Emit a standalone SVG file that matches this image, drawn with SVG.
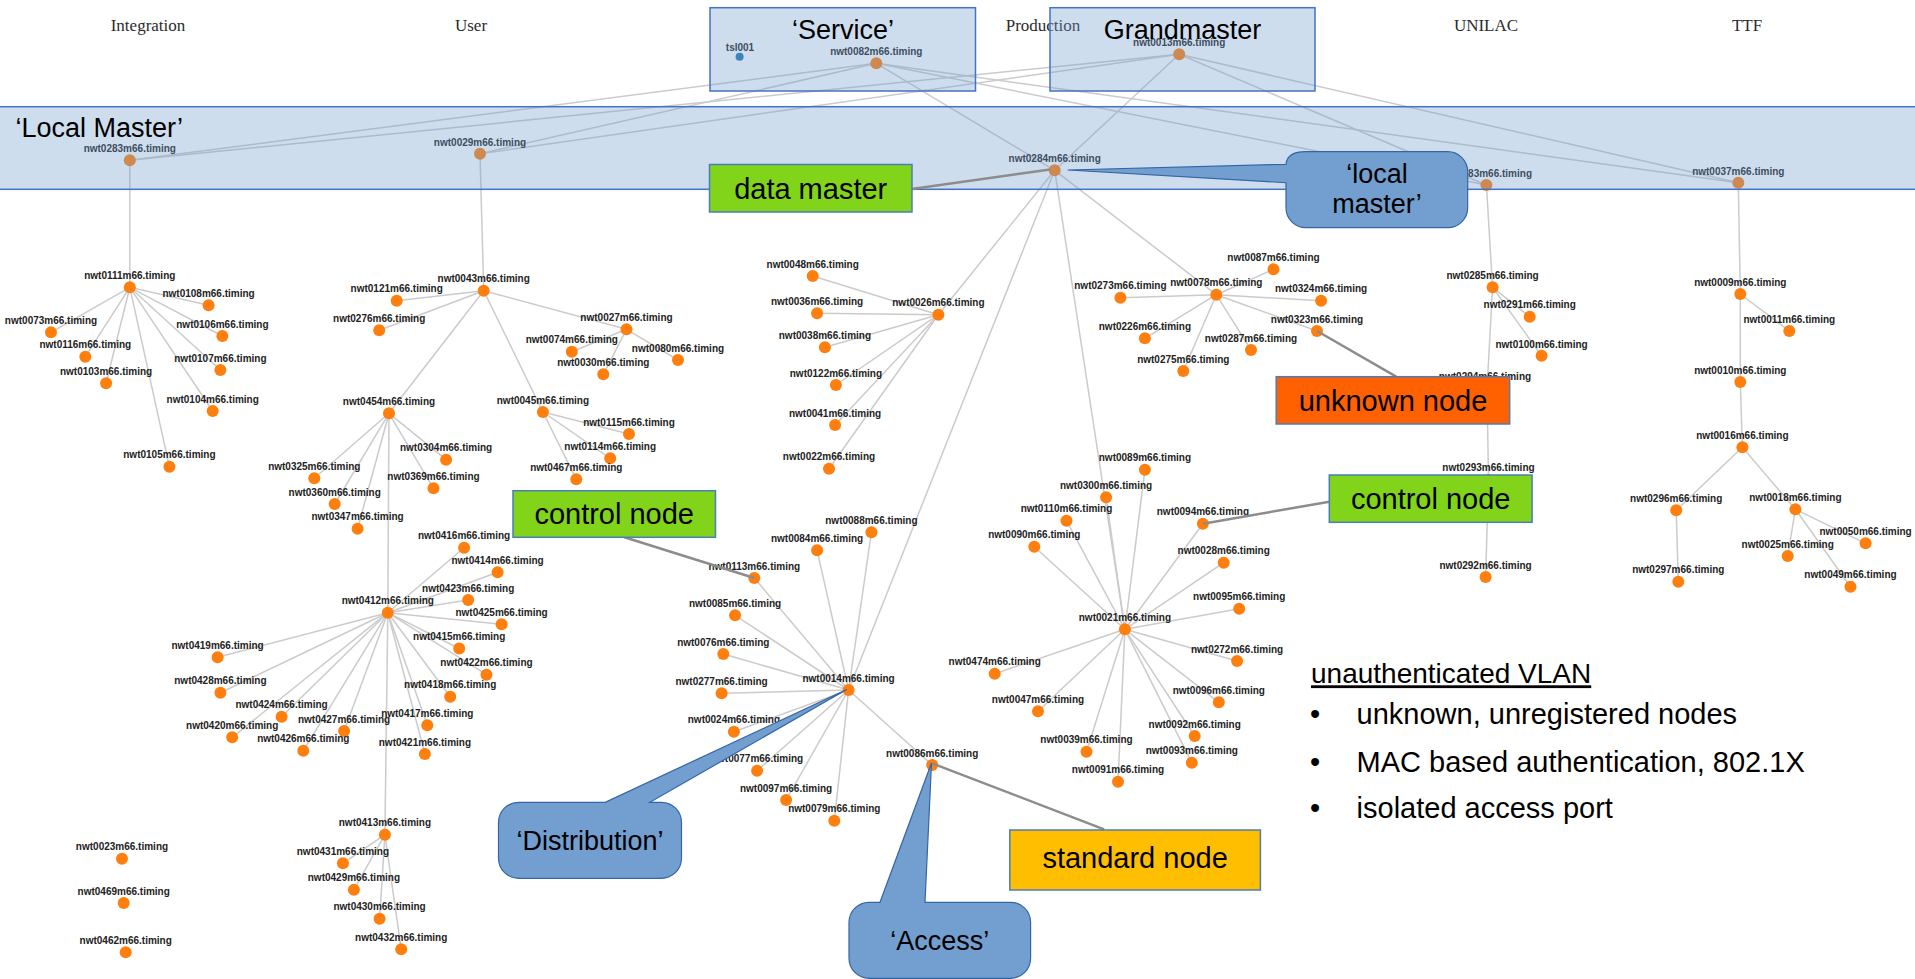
<svg xmlns="http://www.w3.org/2000/svg" width="1915" height="979" viewBox="0 0 1915 979">
  <style>
    .edges line { stroke:#cbcbcb; stroke-width:1.5; }
    .node circle { fill:#ff7f0e; }
    .node text { font-family:"Liberation Sans", Arial, sans-serif; font-weight:bold; font-size:10px; fill:#222; text-anchor:middle; }
    .sector { font-family:"Liberation Serif", "Times New Roman", serif; font-size:17px; fill:#2b2b2b; text-anchor:middle; }
    .zone { fill:#729fcf; fill-opacity:0.35; stroke:#4472c4; stroke-width:1.5; }
    .title { font-family:"Liberation Sans", Arial, sans-serif; font-size:27px; fill:#000; }
    .tag rect { stroke:#4a7ebb; stroke-width:1.5; }
    .tag text { font-family:"Liberation Sans", Arial, sans-serif; font-size:29px; fill:#000; text-anchor:middle; }
    .callout path { fill:#729fcf; stroke:#3465a4; stroke-width:1.2; }
    .callout text { font-family:"Liberation Sans", Arial, sans-serif; font-size:27px; fill:#000; text-anchor:middle; }
    .links line { stroke:#8c8c8c; stroke-width:2.5; }
    .legend { font-family:"Liberation Sans", Arial, sans-serif; fill:#000; }
  </style>

  <rect width="1915" height="979" fill="#ffffff"/>

  <!-- facility names -->
  <g id="sectors">
    <text class="sector" x="148" y="30.5">Integration</text>
    <text class="sector" x="471" y="30.5">User</text>
    <text class="sector" x="1043" y="30.5">Production</text>
    <text class="sector" x="1486" y="30.5">UNILAC</text>
    <text class="sector" x="1747" y="30.5">TTF</text>
  </g>

  <!-- timing network links -->
  <g id="edges" class="edges">
    <line x1="876.3" y1="63.3" x2="129.8" y2="160.3"/>
    <line x1="876.3" y1="63.3" x2="480" y2="153.7"/>
    <line x1="876.3" y1="63.3" x2="1054.7" y2="170.3"/>
    <line x1="876.3" y1="63.3" x2="1486.4" y2="185"/>
    <line x1="876.3" y1="63.3" x2="1738.3" y2="182.7"/>
    <line x1="1179.2" y1="54.3" x2="129.8" y2="160.3"/>
    <line x1="1179.2" y1="54.3" x2="480" y2="153.7"/>
    <line x1="1179.2" y1="54.3" x2="1054.7" y2="170.3"/>
    <line x1="1179.2" y1="54.3" x2="1486.4" y2="185"/>
    <line x1="1179.2" y1="54.3" x2="1738.3" y2="182.7"/>

    <line x1="129.8" y1="160.3" x2="129.8" y2="287.3"/>
    <line x1="129.8" y1="287.3" x2="208.6" y2="305.3"/>
    <line x1="129.8" y1="287.3" x2="51" y2="332.3"/>
    <line x1="129.8" y1="287.3" x2="222.4" y2="336"/>
    <line x1="129.8" y1="287.3" x2="85.3" y2="356.7"/>
    <line x1="129.8" y1="287.3" x2="220.4" y2="370"/>
    <line x1="129.8" y1="287.3" x2="106.1" y2="383.3"/>
    <line x1="129.8" y1="287.3" x2="212.7" y2="411"/>
    <line x1="129.8" y1="287.3" x2="169.4" y2="466.7"/>

    <line x1="480" y1="153.7" x2="483.7" y2="290.7"/>
    <line x1="483.7" y1="290.7" x2="396.7" y2="300.7"/>
    <line x1="483.7" y1="290.7" x2="379.2" y2="330.3"/>
    <line x1="483.7" y1="290.7" x2="626.5" y2="329.3"/>
    <line x1="483.7" y1="290.7" x2="389" y2="413.3"/>
    <line x1="483.7" y1="290.7" x2="542.9" y2="412"/>
    <line x1="626.5" y1="329.3" x2="571.8" y2="351.7"/>
    <line x1="626.5" y1="329.3" x2="603.3" y2="374.3"/>
    <line x1="626.5" y1="329.3" x2="678" y2="360"/>
    <line x1="542.9" y1="412" x2="629" y2="434"/>
    <line x1="542.9" y1="412" x2="610.2" y2="458.3"/>
    <line x1="542.9" y1="412" x2="576.3" y2="479.3"/>
    <line x1="389" y1="413.3" x2="446.1" y2="459.7"/>
    <line x1="389" y1="413.3" x2="314.3" y2="478.3"/>
    <line x1="389" y1="413.3" x2="433.5" y2="488.3"/>
    <line x1="389" y1="413.3" x2="334.7" y2="504"/>
    <line x1="389" y1="413.3" x2="357.6" y2="528.7"/>
    <line x1="389" y1="413.3" x2="387.8" y2="612.7"/>
    <line x1="387.8" y1="612.7" x2="464.1" y2="547.7"/>
    <line x1="387.8" y1="612.7" x2="497.6" y2="572.3"/>
    <line x1="387.8" y1="612.7" x2="468.2" y2="600"/>
    <line x1="387.8" y1="612.7" x2="501.6" y2="624.3"/>
    <line x1="387.8" y1="612.7" x2="459.2" y2="648.5"/>
    <line x1="387.8" y1="612.7" x2="217.6" y2="657.3"/>
    <line x1="387.8" y1="612.7" x2="486.5" y2="674.7"/>
    <line x1="387.8" y1="612.7" x2="220.4" y2="692.7"/>
    <line x1="387.8" y1="612.7" x2="450.2" y2="696.7"/>
    <line x1="387.8" y1="612.7" x2="281.6" y2="716.7"/>
    <line x1="387.8" y1="612.7" x2="427.3" y2="725.3"/>
    <line x1="387.8" y1="612.7" x2="344.1" y2="731"/>
    <line x1="387.8" y1="612.7" x2="232.2" y2="737.3"/>
    <line x1="387.8" y1="612.7" x2="303.3" y2="750.7"/>
    <line x1="387.8" y1="612.7" x2="424.9" y2="754"/>
    <line x1="387.8" y1="612.7" x2="384.9" y2="834.7"/>
    <line x1="384.9" y1="834.7" x2="342.9" y2="863.3"/>
    <line x1="384.9" y1="834.7" x2="353.9" y2="889.7"/>
    <line x1="384.9" y1="834.7" x2="379.6" y2="918.7"/>
    <line x1="384.9" y1="834.7" x2="401.2" y2="949.3"/>

    <line x1="1054.7" y1="170.3" x2="938.4" y2="314.7"/>
    <line x1="1054.7" y1="170.3" x2="848.6" y2="690"/>
    <line x1="1054.7" y1="170.3" x2="1124.9" y2="629.3"/>
    <line x1="1054.7" y1="170.3" x2="1216.3" y2="294.7"/>
    <line x1="938.4" y1="314.7" x2="812.7" y2="276"/>
    <line x1="938.4" y1="314.7" x2="817.1" y2="313.3"/>
    <line x1="938.4" y1="314.7" x2="824.9" y2="347.3"/>
    <line x1="938.4" y1="314.7" x2="835.9" y2="385"/>
    <line x1="938.4" y1="314.7" x2="835.1" y2="425"/>
    <line x1="938.4" y1="314.7" x2="829" y2="468.7"/>
    <line x1="848.6" y1="690" x2="754.3" y2="578"/>
    <line x1="848.6" y1="690" x2="735.1" y2="615.3"/>
    <line x1="848.6" y1="690" x2="723.3" y2="654"/>
    <line x1="848.6" y1="690" x2="721.6" y2="693.3"/>
    <line x1="848.6" y1="690" x2="733.9" y2="731.7"/>
    <line x1="848.6" y1="690" x2="757.1" y2="770.7"/>
    <line x1="848.6" y1="690" x2="786.1" y2="800"/>
    <line x1="848.6" y1="690" x2="834.3" y2="820.7"/>
    <line x1="848.6" y1="690" x2="817.1" y2="550.3"/>
    <line x1="848.6" y1="690" x2="871.4" y2="532.3"/>
    <line x1="848.6" y1="690" x2="932.2" y2="765"/>
    <line x1="1216.3" y1="294.7" x2="1120.4" y2="297.7"/>
    <line x1="1216.3" y1="294.7" x2="1273.5" y2="269.3"/>
    <line x1="1216.3" y1="294.7" x2="1321.1" y2="300.7"/>
    <line x1="1216.3" y1="294.7" x2="1144.9" y2="338.3"/>
    <line x1="1216.3" y1="294.7" x2="1251" y2="350"/>
    <line x1="1216.3" y1="294.7" x2="1183.3" y2="371"/>
    <line x1="1216.3" y1="294.7" x2="1317" y2="331"/>
    <line x1="1124.9" y1="629.3" x2="1144.9" y2="469.7"/>
    <line x1="1124.9" y1="629.3" x2="1106.1" y2="497.3"/>
    <line x1="1124.9" y1="629.3" x2="1066.5" y2="520.7"/>
    <line x1="1124.9" y1="629.3" x2="1034.3" y2="546.7"/>
    <line x1="1124.9" y1="629.3" x2="1202.9" y2="523.7"/>
    <line x1="1124.9" y1="629.3" x2="1223.7" y2="562.7"/>
    <line x1="1124.9" y1="629.3" x2="1239.2" y2="608.7"/>
    <line x1="1124.9" y1="629.3" x2="1237.1" y2="661"/>
    <line x1="1124.9" y1="629.3" x2="994.7" y2="673.7"/>
    <line x1="1124.9" y1="629.3" x2="1038" y2="711.3"/>
    <line x1="1124.9" y1="629.3" x2="1086.5" y2="751.7"/>
    <line x1="1124.9" y1="629.3" x2="1118" y2="781.7"/>
    <line x1="1124.9" y1="629.3" x2="1218.8" y2="702.3"/>
    <line x1="1124.9" y1="629.3" x2="1194.7" y2="736"/>
    <line x1="1124.9" y1="629.3" x2="1191.8" y2="762.7"/>

    <line x1="1486.4" y1="185" x2="1492.6" y2="287.3"/>
    <line x1="1492.6" y1="287.3" x2="1529.7" y2="316.7"/>
    <line x1="1492.6" y1="287.3" x2="1541.6" y2="355.8"/>
    <line x1="1492.6" y1="287.3" x2="1487" y2="389"/>
    <line x1="1487" y1="389" x2="1488.5" y2="480"/>
    <line x1="1488.5" y1="480" x2="1485.6" y2="577"/>

    <line x1="1738.3" y1="182.7" x2="1740.3" y2="294"/>
    <line x1="1740.3" y1="294" x2="1789.3" y2="331"/>
    <line x1="1740.3" y1="294" x2="1740.3" y2="382"/>
    <line x1="1740.3" y1="382" x2="1742.4" y2="447.3"/>
    <line x1="1742.4" y1="447.3" x2="1676.2" y2="510.3"/>
    <line x1="1742.4" y1="447.3" x2="1795.4" y2="509.3"/>
    <line x1="1676.2" y1="510.3" x2="1678.3" y2="581.7"/>
    <line x1="1795.4" y1="509.3" x2="1865.6" y2="543.3"/>
    <line x1="1795.4" y1="509.3" x2="1787.7" y2="556"/>
    <line x1="1795.4" y1="509.3" x2="1850.5" y2="586.7"/>
  </g>

  <!-- timing nodes -->
  <g id="nodes">
    <g id="tsl001" class="node"><circle cx="739.6" cy="56.7" r="4" style="fill:#1f77b4"/><text x="740" y="50.5">tsl001</text></g>
    <g id="n0082" class="node"><circle cx="876.3" cy="63.3" r="6"/><text x="876.3" y="54.8">nwt0082m66.timing</text></g>
    <g id="n0013" class="node"><circle cx="1179.2" cy="54.3" r="6"/><text x="1179.2" y="46.3">nwt0013m66.timing</text></g>
    <g id="n0283" class="node"><circle cx="129.8" cy="160.3" r="6"/><text x="129.8" y="151.8">nwt0283m66.timing</text></g>
    <g id="n0029" class="node"><circle cx="480" cy="153.7" r="6"/><text x="480" y="145.5">nwt0029m66.timing</text></g>
    <g id="n0284" class="node"><circle cx="1054.7" cy="170.3" r="6"/><text x="1054.7" y="162">nwt0284m66.timing</text></g>
    <g id="n0083" class="node"><circle cx="1486.4" cy="185" r="6"/><text x="1532" y="177" style="text-anchor:end">83m66.timing</text></g>
    <g id="n0037" class="node"><circle cx="1738.3" cy="182.7" r="6"/><text x="1738.3" y="174.5">nwt0037m66.timing</text></g>

    <g id="n0111" class="node"><circle cx="129.8" cy="287.3" r="6"/><text x="129.8" y="279">nwt0111m66.timing</text></g>
    <g id="n0108" class="node"><circle cx="208.6" cy="305.3" r="6"/><text x="208.6" y="297">nwt0108m66.timing</text></g>
    <g id="n0073" class="node"><circle cx="51" cy="332.3" r="6"/><text x="51" y="324">nwt0073m66.timing</text></g>
    <g id="n0106" class="node"><circle cx="222.4" cy="336" r="6"/><text x="222.4" y="327.7">nwt0106m66.timing</text></g>
    <g id="n0116" class="node"><circle cx="85.3" cy="356.7" r="6"/><text x="85.3" y="348.4">nwt0116m66.timing</text></g>
    <g id="n0107" class="node"><circle cx="220.4" cy="370" r="6"/><text x="220.4" y="361.7">nwt0107m66.timing</text></g>
    <g id="n0103" class="node"><circle cx="106.1" cy="383.3" r="6"/><text x="106.1" y="375">nwt0103m66.timing</text></g>
    <g id="n0104" class="node"><circle cx="212.7" cy="411" r="6"/><text x="212.7" y="402.7">nwt0104m66.timing</text></g>
    <g id="n0105" class="node"><circle cx="169.4" cy="466.7" r="6"/><text x="169.4" y="458.4">nwt0105m66.timing</text></g>

    <g id="n0043" class="node"><circle cx="483.7" cy="290.7" r="6"/><text x="483.7" y="282.4">nwt0043m66.timing</text></g>
    <g id="n0121" class="node"><circle cx="396.7" cy="300.7" r="6"/><text x="396.7" y="292.4">nwt0121m66.timing</text></g>
    <g id="n0276" class="node"><circle cx="379.2" cy="330.3" r="6"/><text x="379.2" y="322">nwt0276m66.timing</text></g>
    <g id="n0027" class="node"><circle cx="626.5" cy="329.3" r="6"/><text x="626.5" y="321">nwt0027m66.timing</text></g>
    <g id="n0074" class="node"><circle cx="571.8" cy="351.7" r="6"/><text x="571.8" y="343.4">nwt0074m66.timing</text></g>
    <g id="n0030" class="node"><circle cx="603.3" cy="374.3" r="6"/><text x="603.3" y="366">nwt0030m66.timing</text></g>
    <g id="n0080" class="node"><circle cx="678" cy="360" r="6"/><text x="678" y="351.7">nwt0080m66.timing</text></g>
    <g id="n0454" class="node"><circle cx="389" cy="413.3" r="6"/><text x="389" y="405">nwt0454m66.timing</text></g>
    <g id="n0045" class="node"><circle cx="542.9" cy="412" r="6"/><text x="542.9" y="403.7">nwt0045m66.timing</text></g>
    <g id="n0115" class="node"><circle cx="629" cy="434" r="6"/><text x="629" y="425.7">nwt0115m66.timing</text></g>
    <g id="n0114" class="node"><circle cx="610.2" cy="458.3" r="6"/><text x="610.2" y="450">nwt0114m66.timing</text></g>
    <g id="n0467" class="node"><circle cx="576.3" cy="479.3" r="6"/><text x="576.3" y="471">nwt0467m66.timing</text></g>
    <g id="n0304" class="node"><circle cx="446.1" cy="459.7" r="6"/><text x="446.1" y="451.4">nwt0304m66.timing</text></g>
    <g id="n0325" class="node"><circle cx="314.3" cy="478.3" r="6"/><text x="314.3" y="470">nwt0325m66.timing</text></g>
    <g id="n0369" class="node"><circle cx="433.5" cy="488.3" r="6"/><text x="433.5" y="480">nwt0369m66.timing</text></g>
    <g id="n0360" class="node"><circle cx="334.7" cy="504" r="6"/><text x="334.7" y="495.7">nwt0360m66.timing</text></g>
    <g id="n0347" class="node"><circle cx="357.6" cy="528.7" r="6"/><text x="357.6" y="520.4">nwt0347m66.timing</text></g>
    <g id="n0416" class="node"><circle cx="464.1" cy="547.7" r="6"/><text x="464.1" y="539.4">nwt0416m66.timing</text></g>
    <g id="n0414" class="node"><circle cx="497.6" cy="572.3" r="6"/><text x="497.6" y="564">nwt0414m66.timing</text></g>
    <g id="n0423" class="node"><circle cx="468.2" cy="600" r="6"/><text x="468.2" y="591.7">nwt0423m66.timing</text></g>
    <g id="n0412" class="node"><circle cx="387.8" cy="612.7" r="6"/><text x="387.8" y="604.4">nwt0412m66.timing</text></g>
    <g id="n0425" class="node"><circle cx="501.6" cy="624.3" r="6"/><text x="501.6" y="616">nwt0425m66.timing</text></g>
    <g id="n0415" class="node"><circle cx="459.2" cy="648.5" r="6"/><text x="459.2" y="640.2">nwt0415m66.timing</text></g>
    <g id="n0419" class="node"><circle cx="217.6" cy="657.3" r="6"/><text x="217.6" y="649">nwt0419m66.timing</text></g>
    <g id="n0422" class="node"><circle cx="486.5" cy="674.7" r="6"/><text x="486.5" y="666.4">nwt0422m66.timing</text></g>
    <g id="n0428" class="node"><circle cx="220.4" cy="692.7" r="6"/><text x="220.4" y="684.4">nwt0428m66.timing</text></g>
    <g id="n0418" class="node"><circle cx="450.2" cy="696.7" r="6"/><text x="450.2" y="688.4">nwt0418m66.timing</text></g>
    <g id="n0424" class="node"><circle cx="281.6" cy="716.7" r="6"/><text x="281.6" y="708.4">nwt0424m66.timing</text></g>
    <g id="n0417" class="node"><circle cx="427.3" cy="725.3" r="6"/><text x="427.3" y="717">nwt0417m66.timing</text></g>
    <g id="n0427" class="node"><circle cx="344.1" cy="731" r="6"/><text x="344.1" y="722.7">nwt0427m66.timing</text></g>
    <g id="n0420" class="node"><circle cx="232.2" cy="737.3" r="6"/><text x="232.2" y="729">nwt0420m66.timing</text></g>
    <g id="n0426" class="node"><circle cx="303.3" cy="750.7" r="6"/><text x="303.3" y="742.4">nwt0426m66.timing</text></g>
    <g id="n0421" class="node"><circle cx="424.9" cy="754" r="6"/><text x="424.9" y="745.7">nwt0421m66.timing</text></g>
    <g id="n0413" class="node"><circle cx="384.9" cy="834.7" r="6"/><text x="384.9" y="826.4">nwt0413m66.timing</text></g>
    <g id="n0431" class="node"><circle cx="342.9" cy="863.3" r="6"/><text x="342.9" y="855">nwt0431m66.timing</text></g>
    <g id="n0429" class="node"><circle cx="353.9" cy="889.7" r="6"/><text x="353.9" y="881.4">nwt0429m66.timing</text></g>
    <g id="n0430" class="node"><circle cx="379.6" cy="918.7" r="6"/><text x="379.6" y="910.4">nwt0430m66.timing</text></g>
    <g id="n0432" class="node"><circle cx="401.2" cy="949.3" r="6"/><text x="401.2" y="941">nwt0432m66.timing</text></g>
    <g id="n0023" class="node"><circle cx="122" cy="858.7" r="6"/><text x="122" y="850.4">nwt0023m66.timing</text></g>
    <g id="n0469" class="node"><circle cx="123.7" cy="903" r="6"/><text x="123.7" y="894.7">nwt0469m66.timing</text></g>
    <g id="n0462" class="node"><circle cx="125.7" cy="952.3" r="6"/><text x="125.7" y="944">nwt0462m66.timing</text></g>

    <g id="n0048" class="node"><circle cx="812.7" cy="276" r="6"/><text x="812.7" y="267.7">nwt0048m66.timing</text></g>
    <g id="n0036" class="node"><circle cx="817.1" cy="313.3" r="6"/><text x="817.1" y="305">nwt0036m66.timing</text></g>
    <g id="n0026" class="node"><circle cx="938.4" cy="314.7" r="6"/><text x="938.4" y="306.4">nwt0026m66.timing</text></g>
    <g id="n0038" class="node"><circle cx="824.9" cy="347.3" r="6"/><text x="824.9" y="339">nwt0038m66.timing</text></g>
    <g id="n0122" class="node"><circle cx="835.9" cy="385" r="6"/><text x="835.9" y="376.7">nwt0122m66.timing</text></g>
    <g id="n0041" class="node"><circle cx="835.1" cy="425" r="6"/><text x="835.1" y="416.7">nwt0041m66.timing</text></g>
    <g id="n0022" class="node"><circle cx="829" cy="468.7" r="6"/><text x="829" y="460.4">nwt0022m66.timing</text></g>
    <g id="n0088" class="node"><circle cx="871.4" cy="532.3" r="6"/><text x="871.4" y="524">nwt0088m66.timing</text></g>
    <g id="n0084" class="node"><circle cx="817.1" cy="550.3" r="6"/><text x="817.1" y="542">nwt0084m66.timing</text></g>
    <g id="n0113" class="node"><circle cx="754.3" cy="578" r="6"/><text x="754.3" y="569.7">nwt0113m66.timing</text></g>
    <g id="n0085" class="node"><circle cx="735.1" cy="615.3" r="6"/><text x="735.1" y="607">nwt0085m66.timing</text></g>
    <g id="n0076" class="node"><circle cx="723.3" cy="654" r="6"/><text x="723.3" y="645.7">nwt0076m66.timing</text></g>
    <g id="n0014" class="node"><circle cx="848.6" cy="690" r="6"/><text x="848.6" y="681.7">nwt0014m66.timing</text></g>
    <g id="n0277" class="node"><circle cx="721.6" cy="693.3" r="6"/><text x="721.6" y="685">nwt0277m66.timing</text></g>
    <g id="n0024" class="node"><circle cx="733.9" cy="731.7" r="6"/><text x="733.9" y="723.4">nwt0024m66.timing</text></g>
    <g id="n0077" class="node"><circle cx="757.1" cy="770.7" r="6"/><text x="757.1" y="762.4">nwt0077m66.timing</text></g>
    <g id="n0097" class="node"><circle cx="786.1" cy="800" r="6"/><text x="786.1" y="791.7">nwt0097m66.timing</text></g>
    <g id="n0079" class="node"><circle cx="834.3" cy="820.7" r="6"/><text x="834.3" y="812.4">nwt0079m66.timing</text></g>
    <g id="n0086" class="node"><circle cx="932.2" cy="765" r="6"/><text x="932.2" y="756.7">nwt0086m66.timing</text></g>

    <g id="n0273" class="node"><circle cx="1120.4" cy="297.7" r="6"/><text x="1120.4" y="289.4">nwt0273m66.timing</text></g>
    <g id="n0078" class="node"><circle cx="1216.3" cy="294.7" r="6"/><text x="1216.3" y="286.4">nwt0078m66.timing</text></g>
    <g id="n0087" class="node"><circle cx="1273.5" cy="269.3" r="6"/><text x="1273.5" y="261">nwt0087m66.timing</text></g>
    <g id="n0324" class="node"><circle cx="1321.1" cy="300.7" r="6"/><text x="1321.1" y="292.4">nwt0324m66.timing</text></g>
    <g id="n0226" class="node"><circle cx="1144.9" cy="338.3" r="6"/><text x="1144.9" y="330">nwt0226m66.timing</text></g>
    <g id="n0287" class="node"><circle cx="1251" cy="350" r="6"/><text x="1251" y="341.7">nwt0287m66.timing</text></g>
    <g id="n0323" class="node"><circle cx="1317" cy="331" r="6"/><text x="1317" y="322.7">nwt0323m66.timing</text></g>
    <g id="n0275" class="node"><circle cx="1183.3" cy="371" r="6"/><text x="1183.3" y="362.7">nwt0275m66.timing</text></g>
    <g id="n0089" class="node"><circle cx="1144.9" cy="469.7" r="6"/><text x="1144.9" y="461.4">nwt0089m66.timing</text></g>
    <g id="n0300" class="node"><circle cx="1106.1" cy="497.3" r="6"/><text x="1106.1" y="489">nwt0300m66.timing</text></g>
    <g id="n0110" class="node"><circle cx="1066.5" cy="520.7" r="6"/><text x="1066.5" y="512.4">nwt0110m66.timing</text></g>
    <g id="n0094" class="node"><circle cx="1202.9" cy="523.7" r="6"/><text x="1202.9" y="515.4">nwt0094m66.timing</text></g>
    <g id="n0090" class="node"><circle cx="1034.3" cy="546.7" r="6"/><text x="1034.3" y="538.4">nwt0090m66.timing</text></g>
    <g id="n0028" class="node"><circle cx="1223.7" cy="562.7" r="6"/><text x="1223.7" y="554.4">nwt0028m66.timing</text></g>
    <g id="n0095" class="node"><circle cx="1239.2" cy="608.7" r="6"/><text x="1239.2" y="600.4">nwt0095m66.timing</text></g>
    <g id="n0021" class="node"><circle cx="1124.9" cy="629.3" r="6"/><text x="1124.9" y="621">nwt0021m66.timing</text></g>
    <g id="n0272" class="node"><circle cx="1237.1" cy="661" r="6"/><text x="1237.1" y="652.7">nwt0272m66.timing</text></g>
    <g id="n0474" class="node"><circle cx="994.7" cy="673.7" r="6"/><text x="994.7" y="665.4">nwt0474m66.timing</text></g>
    <g id="n0096" class="node"><circle cx="1218.8" cy="702.3" r="6"/><text x="1218.8" y="694">nwt0096m66.timing</text></g>
    <g id="n0047" class="node"><circle cx="1038" cy="711.3" r="6"/><text x="1038" y="703">nwt0047m66.timing</text></g>
    <g id="n0092" class="node"><circle cx="1194.7" cy="736" r="6"/><text x="1194.7" y="727.7">nwt0092m66.timing</text></g>
    <g id="n0039" class="node"><circle cx="1086.5" cy="751.7" r="6"/><text x="1086.5" y="743.4">nwt0039m66.timing</text></g>
    <g id="n0093" class="node"><circle cx="1191.8" cy="762.7" r="6"/><text x="1191.8" y="754.4">nwt0093m66.timing</text></g>
    <g id="n0091" class="node"><circle cx="1118" cy="781.7" r="6"/><text x="1118" y="773.4">nwt0091m66.timing</text></g>

    <g id="n0285" class="node"><circle cx="1492.6" cy="287.3" r="6"/><text x="1492.6" y="279">nwt0285m66.timing</text></g>
    <g id="n0291" class="node"><circle cx="1529.7" cy="316.7" r="6"/><text x="1529.7" y="308.4">nwt0291m66.timing</text></g>
    <g id="n0100" class="node"><circle cx="1541.6" cy="355.8" r="6"/><text x="1541.6" y="347.5">nwt0100m66.timing</text></g>
    <g id="n0294" class="node"><circle cx="1487" cy="389" r="6"/><text x="1485" y="380">nwt0294m66.timing</text></g>
    <g id="n0293" class="node"><circle cx="1488.5" cy="480" r="6"/><text x="1488.5" y="471">nwt0293m66.timing</text></g>
    <g id="n0292" class="node"><circle cx="1485.6" cy="577" r="6"/><text x="1485.6" y="568.7">nwt0292m66.timing</text></g>

    <g id="n0009" class="node"><circle cx="1740.3" cy="294" r="6"/><text x="1740.3" y="285.7">nwt0009m66.timing</text></g>
    <g id="n0011" class="node"><circle cx="1789.3" cy="331" r="6"/><text x="1789.3" y="322.7">nwt0011m66.timing</text></g>
    <g id="n0010" class="node"><circle cx="1740.3" cy="382" r="6"/><text x="1740.3" y="373.7">nwt0010m66.timing</text></g>
    <g id="n0016" class="node"><circle cx="1742.4" cy="447.3" r="6"/><text x="1742.4" y="439">nwt0016m66.timing</text></g>
    <g id="n0296" class="node"><circle cx="1676.2" cy="510.3" r="6"/><text x="1676.2" y="502">nwt0296m66.timing</text></g>
    <g id="n0018" class="node"><circle cx="1795.4" cy="509.3" r="6"/><text x="1795.4" y="501">nwt0018m66.timing</text></g>
    <g id="n0050" class="node"><circle cx="1865.6" cy="543.3" r="6"/><text x="1865.6" y="535">nwt0050m66.timing</text></g>
    <g id="n0025" class="node"><circle cx="1787.7" cy="556" r="6"/><text x="1787.7" y="547.7">nwt0025m66.timing</text></g>
    <g id="n0297" class="node"><circle cx="1678.3" cy="581.7" r="6"/><text x="1678.3" y="573.4">nwt0297m66.timing</text></g>
    <g id="n0049" class="node"><circle cx="1850.5" cy="586.7" r="6"/><text x="1850.5" y="578.4">nwt0049m66.timing</text></g>
  </g>

  <!-- translucent layer zones -->
  <g id="zone-local-master">
    <rect class="zone" x="-2" y="106.7" width="1919" height="82.6"/>
    <text class="title" x="15.5" y="137.3">‘Local Master’</text>
  </g>
  <g id="zone-service">
    <rect class="zone" x="710" y="7.7" width="265.5" height="83.3"/>
    <text class="title" x="843" y="39" text-anchor="middle">‘Service’</text>
  </g>
  <g id="zone-grandmaster">
    <rect class="zone" x="1050" y="7.7" width="265" height="83.3"/>
    <text class="title" x="1182.5" y="39" text-anchor="middle">Grandmaster</text>
  </g>

  <!-- role tag leader lines -->
  <g id="links" class="links">
    <line x1="911.8" y1="189" x2="1050" y2="169.5"/>
    <line x1="624.5" y1="537.3" x2="754.3" y2="578"/>
    <line x1="1396.2" y1="376.7" x2="1317" y2="331"/>
    <line x1="1329.3" y1="501.7" x2="1202.9" y2="523.7"/>
    <line x1="1104.1" y1="829.3" x2="932.2" y2="763.3"/>
  </g>

  <!-- role tags -->
  <g id="tag-data-master" class="tag">
    <rect x="709.5" y="164.5" width="202.5" height="47.5" fill="#81d41a"/>
    <text x="810.7" y="199">data master</text>
  </g>
  <g id="tag-control-node-1" class="tag">
    <rect x="513" y="490.7" width="202.5" height="46.6" fill="#81d41a"/>
    <text x="614.2" y="524">control node</text>
  </g>
  <g id="tag-unknown-node" class="tag">
    <rect x="1276.2" y="376.7" width="233.5" height="47.3" fill="#ff6000"/>
    <text x="1393" y="410.5">unknown node</text>
  </g>
  <g id="tag-control-node-2" class="tag">
    <rect x="1329.3" y="475" width="202.8" height="47.3" fill="#81d41a"/>
    <text x="1430.7" y="508.7">control node</text>
  </g>
  <g id="tag-standard-node" class="tag">
    <rect x="1009.8" y="830" width="250.6" height="60" fill="#ffbf00"/>
    <text x="1135.1" y="868.3">standard node</text>
  </g>

  <!-- layer callouts -->
  <g id="callout-local-master" class="callout">
    <path d="M1306,151.7 H1447.7 A20,20 0 0 1 1467.7,171.7 V207.7 A20,20 0 0 1 1447.7,227.7 H1306 A20,20 0 0 1 1286,207.7 V182.7 L1067.7,170 L1286,164.3 Q1287,151.7 1306,151.7 Z"/>
    <text x="1377" y="183.3">‘local</text>
    <text x="1377" y="213.3">master’</text>
  </g>
  <g id="callout-distribution" class="callout">
    <path d="M518.5,802.3 H605.2 L846.7,689.5 L649.9,802.3 H661.5 A20,20 0 0 1 681.5,822.3 V858.3 A20,20 0 0 1 661.5,878.3 H518.5 A20,20 0 0 1 498.5,858.3 V822.3 A20,20 0 0 1 518.5,802.3 Z"/>
    <text x="590" y="850">‘Distribution’</text>
  </g>
  <g id="callout-access" class="callout">
    <path d="M869,902.3 H880 L931.5,763 L925,902.3 H1010.6 A20,20 0 0 1 1030.6,922.3 V958.3 A20,20 0 0 1 1010.6,978.3 H869 A20,20 0 0 1 849,958.3 V922.3 A20,20 0 0 1 869,902.3 Z"/>
    <text x="939.8" y="949.5">‘Access’</text>
  </g>

  <!-- VLAN notes -->
  <g id="vlan-notes" class="legend">
    <text x="1311" y="683.3" font-size="28" text-decoration="underline">unauthenticated VLAN</text>
    <text x="1310" y="724" font-size="29">•</text>
    <text x="1356.6" y="724" font-size="29">unknown, unregistered nodes</text>
    <text x="1310" y="771.7" font-size="29">•</text>
    <text x="1356.6" y="771.7" font-size="29">MAC based authentication, 802.1X</text>
    <text x="1310" y="818.3" font-size="29">•</text>
    <text x="1356.6" y="818.3" font-size="29">isolated access port</text>
  </g>
</svg>
